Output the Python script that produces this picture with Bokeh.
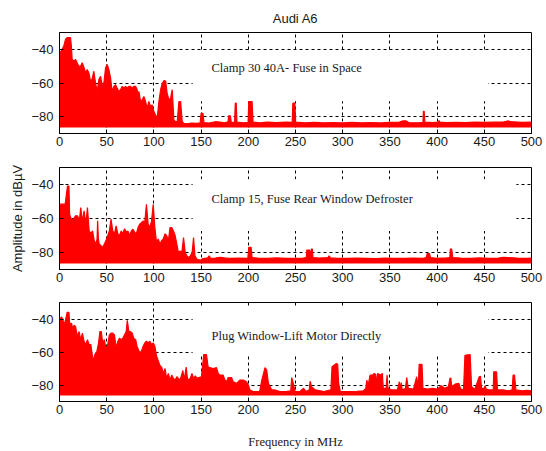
from bokeh.plotting import figure
from bokeh.layouts import column
from bokeh.models import Range1d, FixedTicker, BoxAnnotation, Label
from bokeh.embed import file_html
from bokeh.resources import INLINE

# ---------------- data ----------------
x_ticks = [0, 50, 100, 150, 200, 250, 300, 350, 400, 450, 500]
y_ticks = [-80, -60, -40]
chart_title = "Audi A6"
y_label = "Amplitude in dBµV"
x_label = "Frequency in MHz"

notes = ["Clamp 30 40A- Fuse in Space",
         "Clamp 15, Fuse Rear Window Defroster",
         "Plug Window-Lift Motor Directly"]

# Panel 1: Clamp 30 40A - fuse in space (upper envelope, dBµV)
freq_clamp30 = [0, 1.8, 4.6, 6.4, 8.1, 11.7, 12.7, 13.4, 15.2, 17, 18.7, 20.5, 22.3, 24, 25.8, 27.6, 29.3, 31.1,
                32.9, 34.6, 36.4, 38.2, 39.9, 41.7, 43.5, 45.2, 47, 48.8, 50.5, 52.3, 54.1, 55.8, 57.6, 59.4, 61.1,
                62.9, 64.7, 66.4, 68.2, 70, 71.7, 73.5, 75.3, 77, 78.8, 80.6, 82.3, 83, 84.1, 85.9, 87.6, 89.4, 91.2,
                92.9, 94.7, 96.5, 98.2, 100, 101.8, 103.5, 105.3, 107.1, 109, 111, 112.5, 114, 116, 117.7, 119.4,
                121.2, 123, 124.7, 126.5, 128.3, 130, 131.8, 135, 140, 145, 149, 150, 152, 153, 158, 165, 170, 175,
                178.5, 179.2, 181, 182, 185.5, 186.2, 187.2, 188, 195, 199.8, 200.5, 204, 205, 212, 220, 230, 240,
                246.5, 247.2, 249.3, 250.2, 260, 270, 280, 290, 300, 310, 320, 330, 340, 350, 360, 364, 367, 370,
                380, 385, 385.5, 386.3, 387, 395, 401, 402, 403, 410, 420, 430, 440, 450, 460, 470, 475.5, 477, 485,
                490, 500]
amp_clamp30 = [-42, -41, -38, -34, -33, -33, -39, -46, -47, -46, -48, -50, -50, -48, -50.5, -54, -52, -54,
               -59, -57.5, -53, -60, -65, -58, -56, -61, -60, -51, -49, -52, -57, -65, -62, -61, -63,
               -65, -64, -62, -63, -62, -63, -62, -62, -63, -62, -62, -64, -68, -65, -71, -70, -68, -71,
               -75, -71, -74, -73, -77, -79, -81, -71, -64, -60, -58.5, -59, -66, -70, -69, -64,
               -82, -83, -83, -71, -71, -83, -84, -84.2, -83.8, -84, -83.6, -78, -78, -83.5, -83.8, -83, -83.2, -83.6,
               -83, -79.5, -79.5, -83.4, -83.2, -72, -72, -83.3, -83.6, -83.4, -71, -71, -83.2, -83.6, -83.3, -83.5, -83.3,
               -83.4, -72, -72, -83.3, -83.6, -83.4, -83.6, -83.5, -83.7, -83.4, -83.6, -83.5, -83.7, -83.4, -83.2, -82.5, -82.5, -83.5,
               -83.6, -83.4, -76.8, -76.8, -83.2, -83.5, -83.2, -82.3, -83.2, -83.5, -83.4, -83.5, -83.3, -83.4, -83.3, -83.2, -82.5, -83, -83.2,
               -83.4, -83.3]
floor_clamp30 = -86.4

# Panel 2: Clamp 15, fuse rear window defroster
freq_clamp15 = [0, 3, 6, 7.5, 8.5, 10, 10.7, 12.8, 15, 17, 19, 21.1, 22.5, 24.3, 26, 27.9, 29.6, 31.4, 33.2, 35,
                36.8, 38.6, 39.8, 40.4, 41.2, 42.1, 45.7, 49.3, 52.8, 54.6, 56.4, 58.2, 60, 61.8, 63.6, 65.4, 67.1,
                68.9, 70.7, 72.5, 74.3, 76.1, 77.8, 79.6, 81.4, 83.2, 85, 86.8, 88.6, 90.3, 92.1, 93.9, 95.7, 97.5,
                99.3, 101, 102.8, 104.6, 106.4, 108.2, 110, 111.8, 113.5, 115.3, 117.1, 118.9, 120.7, 122.5, 124.3,
                126, 127.8, 129.6, 131.4, 133.2, 135, 136.8, 138.5, 140.5, 142, 143.5, 145.7, 149.3, 152, 157, 158.5,
                160, 165, 170, 175, 180, 190, 199.5, 200.5, 203, 204, 210, 220, 230, 240, 250, 258, 261.5, 262, 265,
                265.8, 266.8, 267.8, 268.5, 275, 284.5, 285.5, 287, 295, 305, 315, 325, 335, 345, 355, 365, 375, 385,
                388.5, 389.5, 392, 393, 400, 410, 413.5, 414, 415.5, 416.5, 425, 435, 445, 455, 465, 470, 475, 485,
                495, 500]
amp_clamp15 = [-51.6, -51.6, -51.6, -45, -41, -41, -57.5, -61, -60, -58.4, -58.4, -61, -53.5, -62, -55.5, -63.3, -53.5, -67, -69, -67.3,
               -73, -75, -72, -61.4, -72, -75, -77, -73, -67.3, -60.4, -67.3, -69, -64.3, -69, -70, -67.3, -69,
               -66, -68, -67.3, -70, -67.3, -66.3, -68, -69, -65.3, -63.3, -62.4, -61.4, -62.4, -51.6, -63.3, -65.3, -61.4,
               -51.6, -65.3, -74, -72, -75, -73, -72, -69, -70, -73, -65.3, -65.3, -67.3, -70, -75,
               -80, -79, -80, -71.2, -80, -82, -83, -82, -80, -71.2, -82, -84, -84.5, -83.6, -83.2, -82,
               -83.4, -83.3, -82.8, -83.2, -83.5, -83.3, -83.4, -77, -77, -83, -83.3, -83.5, -83.2, -83.4, -83.5, -83.3, -83, -78.6, -78.6,
               -83, -78, -78, -83, -83.3, -83, -82, -83.2, -83.4, -83.5, -83.3, -83.4, -83.6, -83.3, -83.5, -83.4, -83.3, -83.5,
               -83, -80.6, -80.6, -83, -83.4, -83.2, -83, -78, -78, -83, -83.3, -83.5, -83.2, -83.4, -83.3, -82.8, -83, -83.3,
               -83.4, -83.3]
floor_clamp15 = -86.5

# Panel 3: Plug window-lift motor directly
freq_motor = [0, 2.1, 3.6, 4.6, 6.4, 8.2, 10, 10.7, 12.8, 14.3, 15.3, 17.1, 18.9, 20.7, 22.5, 24.3, 26, 27.9, 29.6,
              31.4, 33.2, 34.3, 35.7, 37.8, 39.3, 41.4, 42.8, 44.3, 45.7, 47.5, 49.3, 51.1, 52.8, 54.6, 56.4, 58.2,
              60, 61.8, 63.6, 65.4, 67.1, 68.9, 70.7, 71.8, 73.5, 75, 77.1, 78.5, 80.7, 82.1, 85, 86.8, 88.6, 90.3,
              92.1, 93.9, 95.7, 97.5, 99.3, 101, 102.8, 104.6, 106.4, 108.2, 110, 111.8, 113.5, 115.3, 117.1, 118.9,
              120.7, 122.5, 124.3, 126, 127.8, 130.7, 132.1, 134.2, 135.7, 138.5, 140.3, 142.1, 143.9, 145.7, 147.5,
              150.4, 152.8, 155.7, 157.4, 159.2, 163, 166.3, 168.1, 169.9, 173.4, 175.2, 177, 178.7, 182.3, 184,
              187.6, 191, 194.7, 198.2, 200, 201.8, 205, 212, 214.2, 217.7, 219.5, 221.3, 224.8, 228.4, 233.7, 240,
              245, 246, 247.9, 249.6, 255, 258.5, 261, 264.5, 265.5, 267, 270.9, 280, 287.5, 288.7, 293.3, 294.7,
              295.7, 297.5, 305, 315, 322, 324.5, 325.5, 327, 329, 332, 333, 335, 336, 337, 340, 342, 343, 346, 347,
              348, 352, 358, 360, 361, 362, 363, 366.5, 367.8, 369.5, 375, 378.4, 380, 381, 384, 385, 390, 395, 400,
              404.5, 408, 412, 413.6, 414.5, 415.5, 419, 423, 425, 428, 429.5, 435, 436.5, 440, 444.6, 446, 447,
              450, 451, 452, 455, 459.5, 460, 463, 464, 470, 475, 479.5, 480.5, 482, 483.5, 490, 495, 500]
amp_motor = [-40, -38.8, -40, -43.7, -40.6, -35.9, -35.9, -42.7, -42.7, -46.7, -43.7, -44.7, -50.7, -47.6, -52.5, -48.6, -53.5, -55.5, -52.5,
             -55.5, -55.5, -60.4, -65.3, -61, -60.4, -54.5, -47.6, -47.6, -54.5, -52.5, -58.4, -55.5, -49.6, -48.6, -48.6, -49.6,
             -57.5, -53.5, -51.6, -52.5, -51.6, -49.6, -47.6, -40.8, -47.6, -47.6, -48.6, -51.6, -52.5, -56.5, -60.4, -59.5, -56.5, -54.5,
             -53.5, -54.5, -53.5, -55.5, -54.5, -56.5, -62.4, -65.3, -68.2, -69.2, -73, -70, -76, -73, -77, -74,
             -76, -77, -75, -76, -77, -71.2, -77, -69.2, -77, -76, -73, -76, -74.5, -76, -75.5,
             -75, -61.6, -61.6, -69, -69.5, -70, -69.5, -73, -74, -74, -77, -78, -75.5, -75.5, -78,
             -79, -77, -77, -78, -80, -83, -84, -84, -77.4, -69.5, -71, -79, -83, -83, -84, -84,
             -83.5, -75.5, -79.5, -84, -83.8, -82, -83.8, -83, -77.7, -81, -83, -84, -83, -69, -67, -67.5,
             -79, -84, -84, -83.8, -83.5, -82, -77, -80, -74, -74, -73, -73.5, -80, -73, -74, -73, -82, -82, -74,
             -82, -83, -83, -78, -83, -78.5, -83, -82, -75.5, -82, -82.5, -75, -82, -67.5, -67.5, -82, -82.5, -82, -82.5,
             -80.5, -82, -81, -76, -75.7, -81, -79.5, -79, -82.5, -83, -62, -61.5, -81, -82.5, -75, -74.7, -82,
             -82, -80.5, -82.5, -83, -83, -72, -72, -83, -83, -83.5, -83, -74, -74, -83, -83.5, -83.2, -83.5]
floor_motor = -86.4

# ---------------- layout helpers ----------------
SANS = "Liberation Sans"
SERIF = "Liberation Serif"


def make_panel(height, top, bottom, freq, amp, floor, note, note_y, box):
    p = figure(width=546, height=height, x_range=Range1d(0, 500), y_range=Range1d(-90, -30),
               output_backend="svg", toolbar_location=None,
               min_border_left=59, min_border_right=15, min_border_top=top, min_border_bottom=bottom)
    p.background_fill_color = "white"
    p.border_fill_color = "white"
    p.outline_line_color = "black"
    p.outline_line_width = 1

    for ax in (p.xaxis, p.yaxis):
        ax.axis_line_color = "black"
        ax.major_tick_line_color = "black"
        ax.major_tick_in = 4
        ax.major_tick_out = 0
        ax.minor_tick_in = 0
        ax.minor_tick_out = 0
        ax.major_label_text_font = SANS
        ax.major_label_text_font_size = "13px"
        ax.major_label_text_color = "#1a1a1a"
    p.xaxis.ticker = FixedTicker(ticks=x_ticks)
    p.yaxis.ticker = FixedTicker(ticks=y_ticks)
    p.xaxis.major_label_standoff = 3
    p.yaxis.major_label_standoff = 6

    p.xgrid.ticker = FixedTicker(ticks=x_ticks)
    p.ygrid.ticker = FixedTicker(ticks=y_ticks)
    for g in (p.xgrid, p.ygrid):
        g.grid_line_color = "black"
        g.grid_line_dash = "3 3"
        g.grid_line_width = 1

    # white background behind the panel note (hides the grid there)
    p.add_layout(BoxAnnotation(left=box[0], right=box[1], bottom=box[2], top=box[3],
                               fill_color="white", fill_alpha=1, line_alpha=0, level="underlay"))

    p.varea(x=freq, y1=[floor] * len(freq), y2=amp, fill_color="#ff0000")
    p.line(x=freq, y=amp, line_color="#ff0000", line_width=1.2)

    p.add_layout(Label(x=161, y=note_y, text=note, text_font=SERIF, text_font_size="12.5px",
                       text_color="#1a1a1a", text_align="left", text_baseline="middle"))
    return p


p1 = make_panel(152, 32, 19, freq_clamp30, amp_clamp30, floor_clamp30, notes[0], -50.9,
                (141, 454, -70.9, -41))
p1.title.text = chart_title
p1.title.align = "center"
p1.title.text_font = SANS
p1.title.text_font_size = "13px"
p1.title.text_font_style = "normal"
p1.title.text_color = "#1a1a1a"
p1.title.standoff = 13

p2 = make_panel(138, 15, 21, freq_clamp15, amp_clamp15, floor_clamp15, notes[1], -48.8,
                (141, 484, -67.3, -36.9))
p2.yaxis.axis_label = y_label
p2.yaxis.axis_label_text_font = SANS
p2.yaxis.axis_label_text_font_size = "13px"
p2.yaxis.axis_label_text_font_style = "normal"
p2.yaxis.axis_label_text_color = "#1a1a1a"
p2.yaxis.axis_label_standoff = 3

p3 = make_panel(161, 12, 47, freq_motor, amp_motor, floor_motor, notes[2], -50.2,
                (141, 454, -61.5, -33.4))
p3.xaxis.axis_label = x_label
p3.xaxis.axis_label_text_font = SERIF
p3.xaxis.axis_label_text_font_size = "12.5px"
p3.xaxis.axis_label_text_font_style = "normal"
p3.xaxis.axis_label_text_color = "#1a1a1a"
p3.xaxis.axis_label_standoff = 18

layout = column(p1, p2, p3, spacing=0)

open("out.html", "w").write(file_html(layout, INLINE))
